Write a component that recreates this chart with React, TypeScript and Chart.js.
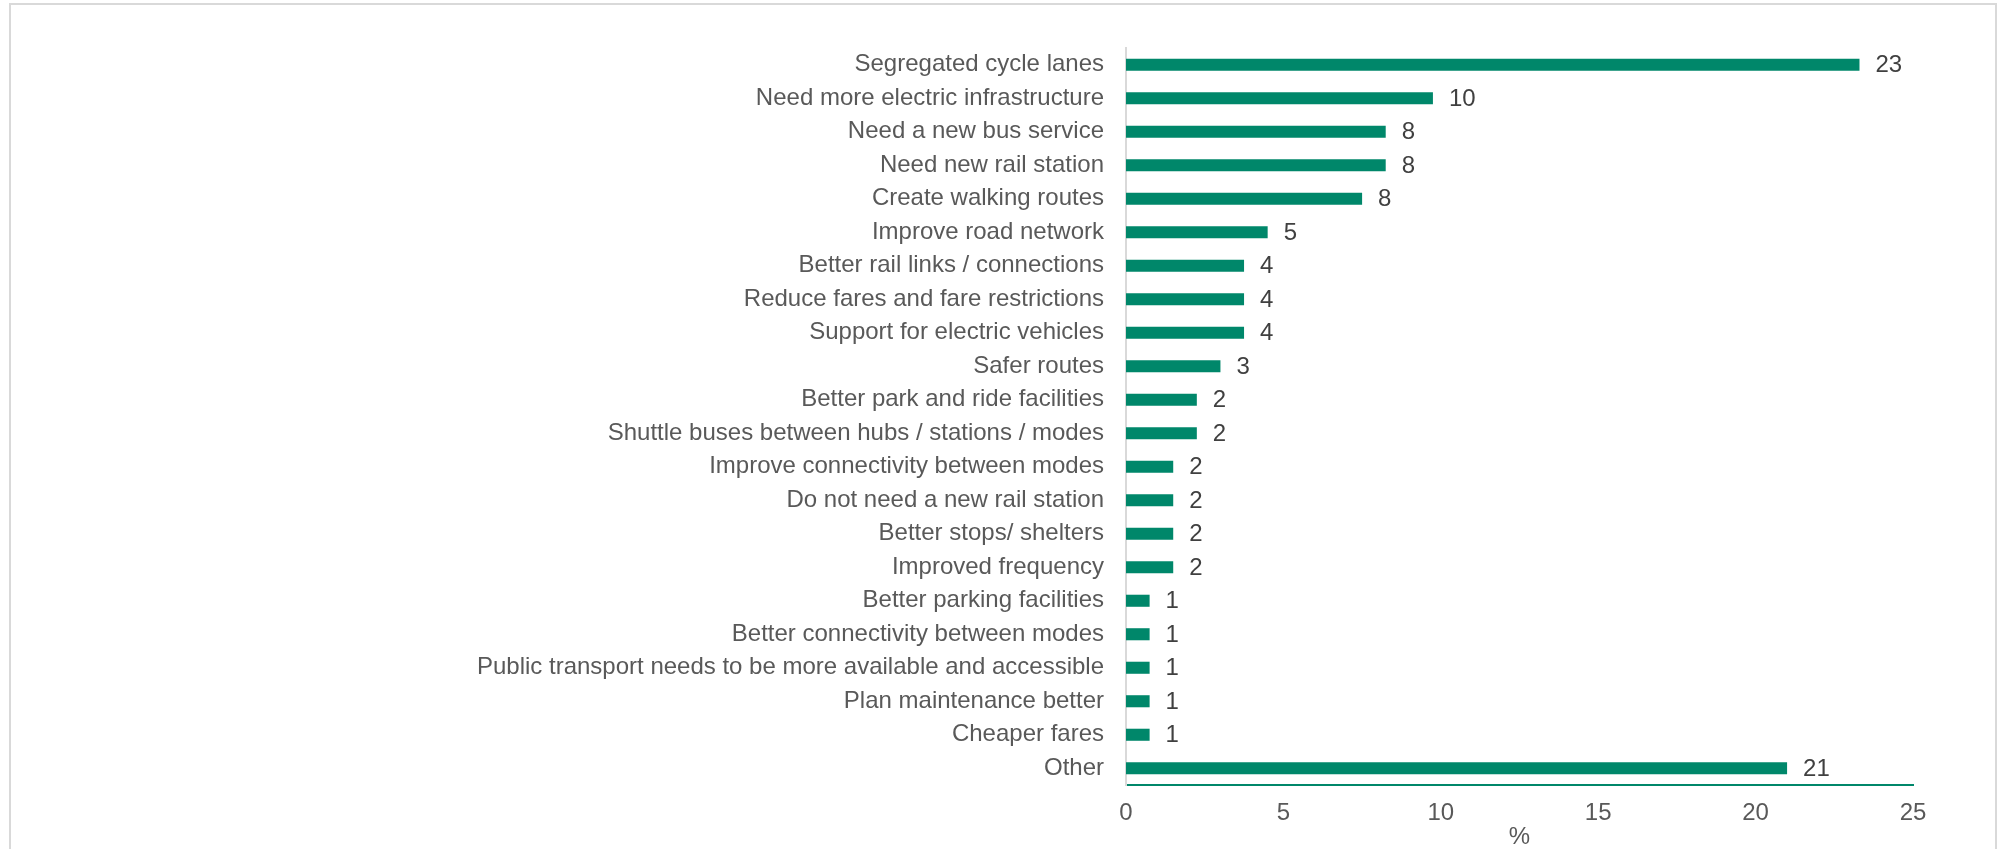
import React, { useEffect, useRef } from "react";
import { Chart, registerables } from "chart.js";

Chart.register(...registerables);

const categories: string[] = [
  "Segregated cycle lanes",
  "Need more electric infrastructure",
  "Need a new bus service",
  "Need new rail station",
  "Create walking routes",
  "Improve road network",
  "Better rail links / connections",
  "Reduce fares and fare restrictions",
  "Support for electric vehicles",
  "Safer routes",
  "Better park and ride facilities",
  "Shuttle buses between hubs / stations / modes",
  "Improve connectivity between modes",
  "Do not need a new rail station",
  "Better stops/ shelters",
  "Improved frequency",
  "Better parking facilities",
  "Better connectivity between modes",
  "Public transport needs to be more available and accessible",
  "Plan maintenance better",
  "Cheaper fares",
  "Other",
];

const percentValues: number[] = [
  23.3, 9.75, 8.25, 8.25, 7.5, 4.5, 3.75, 3.75, 3.75, 3.0, 2.25, 2.25, 1.5, 1.5,
  1.5, 1.5, 0.75, 0.75, 0.75, 0.75, 0.75, 21.0,
];

const valueLabels: string[] = [
  "23", "10", "8", "8", "8", "5", "4", "4", "4", "3", "2", "2", "2", "2", "2",
  "2", "1", "1", "1", "1", "1", "21",
];

const xTicks: number[] = [0, 5, 10, 15, 20, 25];
const axisTitle = "%";

const FONT = "'Liberation Sans', Arial, sans-serif";
const BAR = "#00876A";

export default function App() {
  const ref = useRef<HTMLCanvasElement | null>(null);

  useEffect(() => {
    if (!ref.current) return;
    const labelPlugin = {
      id: "valueLabels",
      afterDatasetsDraw(chart: any) {
        const ctx = chart.ctx;
        const meta = chart.getDatasetMeta(0);
        ctx.save();
        ctx.font = `24px ${FONT}`;
        ctx.fillStyle = "#404040";
        ctx.textAlign = "left";
        ctx.textBaseline = "middle";
        meta.data.forEach((el: any, i: number) => {
          ctx.fillText(valueLabels[i], el.x + 16, el.y + 1);
        });
        ctx.restore();
      },
    };
    const chart = new Chart(ref.current, {
      type: "bar",
      data: {
        labels: categories,
        datasets: [
          {
            data: percentValues,
            backgroundColor: BAR,
            borderWidth: 0,
            barPercentage: 0.36,
            categoryPercentage: 1,
          },
        ],
      },
      options: {
        indexAxis: "y",
        responsive: false,
        animation: false,
        devicePixelRatio: 1,
        layout: { padding: { top: 48, right: 88, bottom: 0, left: 0 } },
        plugins: {
          legend: { display: false },
          tooltip: { enabled: false },
        },
        scales: {
          x: {
            min: 0,
            max: 25,
            afterBuildTicks: (scale: any) => {
              scale.ticks = xTicks.map((v) => ({ value: v }));
            },
            afterFit: (scale: any) => {
              scale.height = 64;
            },
            grid: { display: false, drawTicks: false },
            border: { display: true, color: BAR, width: 2 },
            ticks: {
              color: "#595959",
              font: { family: FONT, size: 24 },
              padding: 14,
              maxRotation: 0,
            },
            title: {
              display: true,
              text: axisTitle,
              color: "#595959",
              font: { family: FONT, size: 24 },
              padding: { top: 0, bottom: -3 },
            },
          },
          y: {
            afterFit: (scale: any) => {
              scale.width = 1126;
            },
            grid: { display: false, drawTicks: false },
            border: { display: true, color: "#D9D9D9", width: 2 },
            ticks: {
              color: "#595959",
              font: { family: FONT, size: 24 },
              padding: 22,
              autoSkip: false,
            },
          },
        },
      },
      plugins: [labelPlugin],
    });
    return () => chart.destroy();
  }, []);

  return (
    <div
      style={{
        position: "absolute",
        left: 0,
        top: 0,
        width: 2001,
        height: 849,
        overflow: "hidden",
        background: "#fff",
      }}
    >
      <div
        style={{
          position: "absolute",
          left: 9,
          top: 3,
          width: 1988,
          height: 900,
          boxSizing: "border-box",
          border: "2px solid #D9D9D9",
        }}
      />
      <canvas
        ref={ref}
        width={2001}
        height={849}
        style={{ position: "absolute", left: 0, top: 0, width: 2001, height: 849 }}
      />
    </div>
  );
}
